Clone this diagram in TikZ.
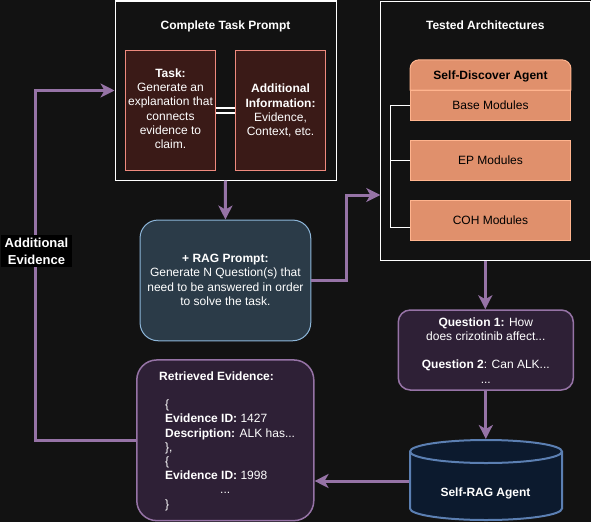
\documentclass[tikz,border=0pt]{standalone}
\usepackage{fontspec}
\setmainfont{Liberation Sans}
\usetikzlibrary{arrows.meta,calc}
\definecolor{bg}{HTML}{121212}
\definecolor{purp}{HTML}{9673A6}
\definecolor{taskfill}{HTML}{3A1A17}
\definecolor{taskline}{HTML}{EE8A7E}
\definecolor{orfill}{HTML}{E0906C}
\definecolor{orline}{HTML}{FFB48E}
\definecolor{ragfill}{HTML}{2B3B48}
\definecolor{ragline}{HTML}{8DB6D9}
\definecolor{qfill}{HTML}{2E2036}
\definecolor{cylfill}{HTML}{0C1A2E}
\definecolor{cylline}{HTML}{5B7FB2}
\begin{document}
\begin{tikzpicture}[x=1pt,y=-1pt,
  every node/.style={text=white,font=\fontsize{12}{14.2}\selectfont,inner sep=0pt},
  outerbox/.style={draw=white,line width=1pt,fill=bg},
  taskbox/.style={draw=taskline,line width=1pt,fill=taskfill},
  orbox/.style={draw=orline,line width=1pt,fill=orfill,text=black,text height=8.6pt,text depth=0pt,minimum width=160.5pt},
  ragbox/.style={draw=ragline,line width=1pt,fill=ragfill,rounded corners=18pt},
  qbox/.style={draw=purp,line width=1.5pt,fill=qfill},
  txt/.style={anchor=north,align=center},
  arr/.style={draw=purp,line width=3pt,-{Stealth[length=14pt,width=14pt,inset=4pt]}},
  brk/.style={draw=white,line width=1pt}]
\fill[bg] (0,0) rectangle (591,522);
\useasboundingbox (0,0) rectangle (591,522);

% Complete Task Prompt
\node[outerbox,minimum width=221pt,minimum height=179pt] (tp) at (225.5,90.5) {};
\node[anchor=base,font=\fontsize{12}{14.2}\selectfont\bfseries] (tptitle) at (225.5,29) {Complete Task Prompt};
\node[taskbox,minimum width=90.5pt,minimum height=120.3pt] (task) at (170.5,110.2) {};
\node[txt] (tasktxt) at (170.5,68.7) {\textbf{Task:}\\Generate an\\explanation that\\connects\\evidence to\\claim.};
\node[taskbox,minimum width=90.5pt,minimum height=120.3pt] (addinfo) at (280.5,110.2) {};
\node[txt] (addtxt) at (280.5,84.1) {\textbf{Additional}\\\textbf{Information:}\\Evidence,\\Context, etc.};
\draw[white,line width=2pt,double=bg,double distance=3pt] (task.east) -- (addinfo.west);

% Tested Architectures
\node[outerbox,minimum width=210pt,minimum height=259pt] (ta) at (485.3,130.5) {};
\node[anchor=base,font=\fontsize{12}{14.2}\selectfont\bfseries] (tatitle) at (485.3,29) {Tested Architectures};
\node[minimum width=160.5pt,minimum height=30pt] (sdh) at (490.5,75) {};
\filldraw[draw=orline,fill=orfill,line width=1pt] (sdh.south west) [rounded corners=9pt] -- (sdh.north west) -- (sdh.north east) [sharp corners] -- (sdh.south east) -- cycle;
\node[text=black,text height=8.6pt,text depth=0pt,font=\fontsize{12}{14.2}\selectfont\bfseries] (sdhtxt) at (sdh.center) {Self-Discover Agent};
\node[orbox,minimum height=30pt] (base) at (490.5,105) {Base Modules};
\node[orbox,minimum height=40pt] (ep) at (490.5,160.3) {EP Modules};
\node[orbox,minimum height=40pt] (coh) at (490.5,220.3) {COH Modules};
\coordinate (bx) at (390.7,0);
\draw[brk] (base.west) -- (base.west -| bx) -- (bx |- 0,227) -- (coh.west |- 0,227);
\draw[brk] (ep.west) -- (ep.west -| bx);

% RAG prompt
\node[ragbox,minimum width=170.7pt,minimum height=120.7pt] (rag) at (225.4,280.4) {};
\node[txt] (ragtxt) at (225.4,254.1) {\textbf{+ RAG Prompt:}\\Generate N Question(s) that\\need to be answered in order\\to solve the task.};

% Questions
\node[qbox,rounded corners=12pt,minimum width=175pt,minimum height=80pt] (q) at (485.8,350) {};
\node[txt] (qtxt) at (485.8,317.3) {\textbf{Question 1:} How\\does crizotinib affect...\\\mbox{}\\\textbf{Question 2}: Can ALK...\\...};

% Self-RAG cylinder
\node[minimum width=152pt,minimum height=80pt] (selfrag) at (486,480) {};
\filldraw[draw=cylline,fill=cylfill,line width=2pt]
  (410,451.5) -- (410,508.5) arc[start angle=180,end angle=360,x radius=76pt,y radius=11.5pt]
  -- (562,451.5) arc[start angle=0,end angle=180,x radius=76pt,y radius=11.5pt] -- cycle;
\draw[draw=cylline,line width=2pt] (410,451.5) arc[start angle=180,end angle=360,x radius=76pt,y radius=11.5pt];
\node[anchor=base,font=\fontsize{12}{14.2}\selectfont\bfseries] (srtxt) at (485.5,496.7) {Self-RAG Agent};

% Retrieved evidence
\node[qbox,rounded corners=20pt,minimum width=177pt,minimum height=160.7pt] (ret) at (225.3,440.3) {};
\node[anchor=north west,align=left] (rettxt) at (159,371.4) {\textbf{Retrieved Evidence:}\\\mbox{}\\
\hspace*{6pt}\{\\
\hspace*{6pt}\textbf{Evidence ID:} 1427\\
\hspace*{6pt}\textbf{Description:} ALK has...\\
\hspace*{6pt}\},\\
\hspace*{6pt}\{\\
\hspace*{6pt}\textbf{Evidence ID:} 1998\\
\hspace*{61pt}...\\
\hspace*{6pt}\}};

% connectors
\coordinate (taIn) at (380.3,195);
\coordinate (bend1) at (346.7,195);
\coordinate (lx) at (35.7,0);
\coordinate (cylOut) at (409,481);
\draw[arr] (tp.south) -- (rag.north);
\draw[arr] (rag.east) -| (bend1) -- (taIn);
\draw[arr] (ta.south) -- (ta.south |- q.north);
\draw[arr] (q.south) -- (q.south |- 0,439);
\draw[arr] (cylOut) -- (cylOut -| ret.east);
\draw[arr] (ret.west) -- (ret.west -| lx) |- (tp.west);
\node[fill=black,align=center,inner xsep=3.5pt,inner ysep=3pt,font=\fontsize{13}{16.5}\selectfont\bfseries] (addev) at (36.5,251.3) {Additional\\Evidence};
\end{tikzpicture}
\end{document}
